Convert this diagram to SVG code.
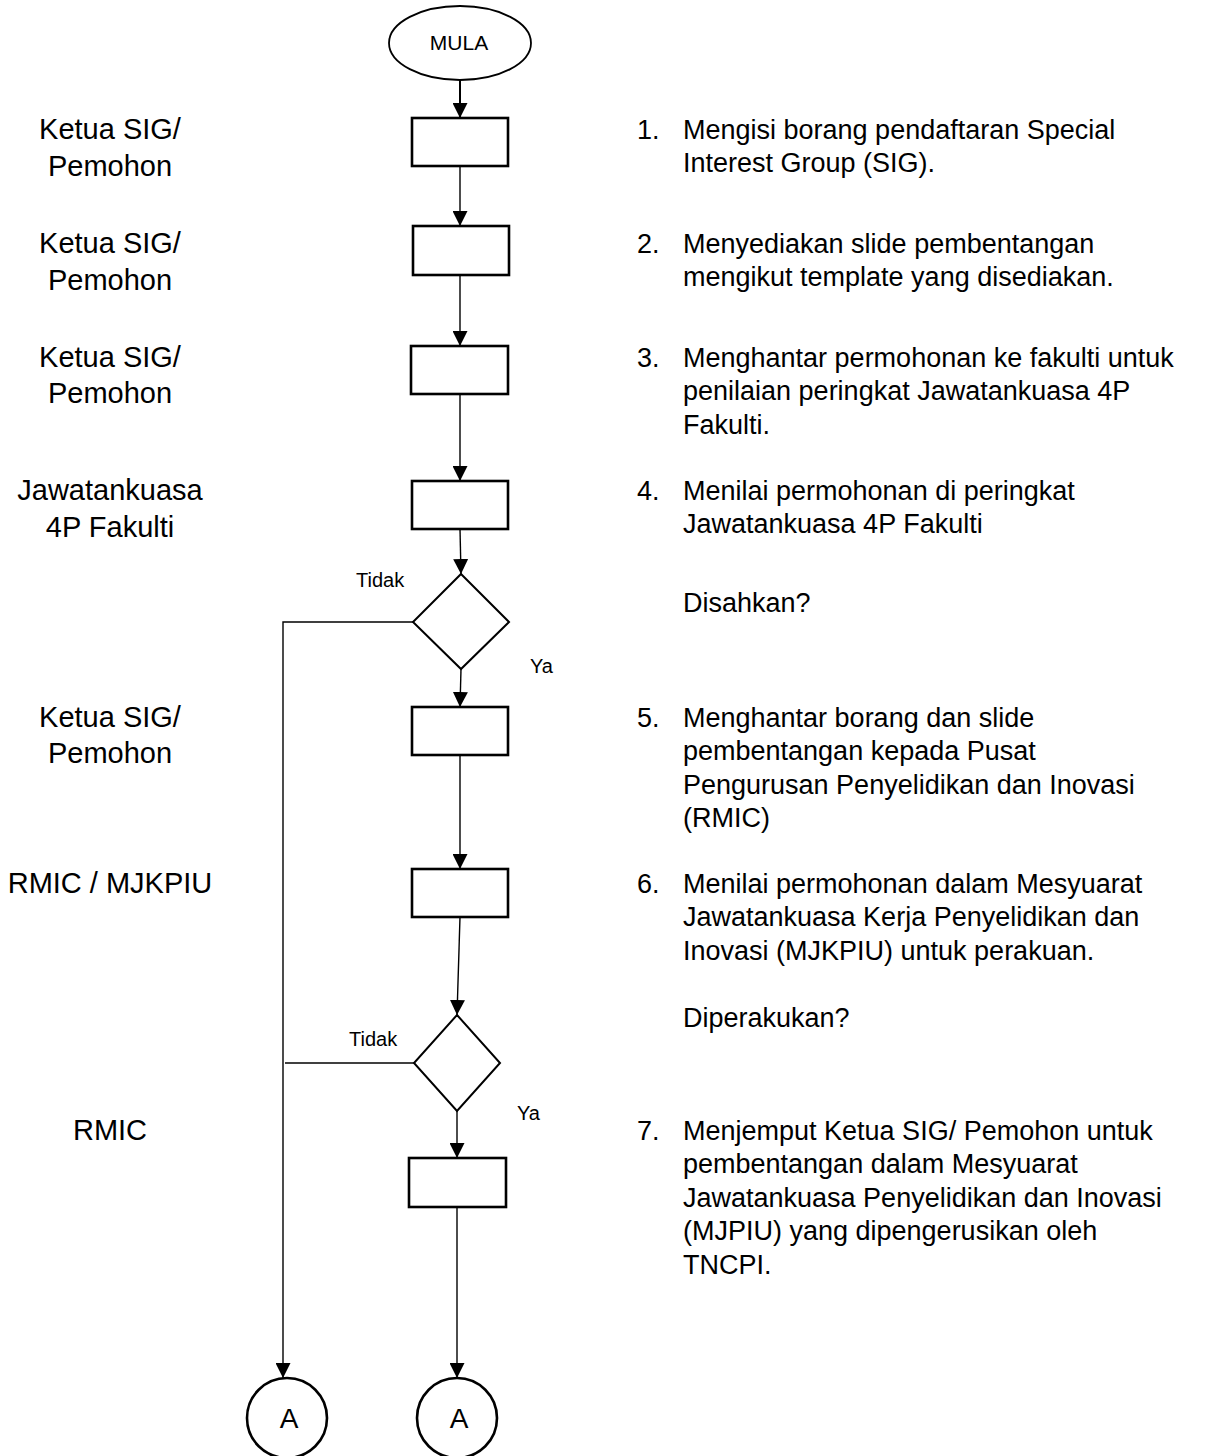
<svg xmlns="http://www.w3.org/2000/svg" width="1228" height="1456" viewBox="0 0 1228 1456">
<style>
  .t { font-family: "Liberation Sans", Arial, sans-serif; fill: #000; }
  .lbl { font-size: 29px; text-anchor: middle; }
  .desc { font-size: 27px; }
  .sm { font-size: 20px; }
  .box { fill: #fff; stroke: #000; stroke-width: 2.6; }
  .dia { fill: #fff; stroke: #000; stroke-width: 2; }
  .con { fill: none; stroke: #000; stroke-width: 1.4; }
</style>
<defs>
  <marker id="arr" markerUnits="userSpaceOnUse" markerWidth="15" markerHeight="15" refX="15" refY="7.5" orient="auto">
    <path d="M0,0 L15,7.5 L0,15 z" fill="#000"/>
  </marker>
</defs>
<rect width="1228" height="1456" fill="#fff"/>

<g id="connectors">
  <line class="con" x1="460" y1="80" x2="460" y2="118" marker-end="url(#arr)" style="stroke-width:2"/>
  <line class="con" x1="460" y1="166" x2="460" y2="226" marker-end="url(#arr)"/>
  <line class="con" x1="460" y1="275" x2="460" y2="346" marker-end="url(#arr)"/>
  <line class="con" x1="460" y1="394" x2="460" y2="481" marker-end="url(#arr)"/>
  <line class="con" x1="460" y1="529" x2="461" y2="574" marker-end="url(#arr)"/>
  <line class="con" x1="461" y1="669" x2="460" y2="707" marker-end="url(#arr)"/>
  <line class="con" x1="460" y1="755" x2="460" y2="869" marker-end="url(#arr)"/>
  <line class="con" x1="460" y1="917" x2="457" y2="1015" marker-end="url(#arr)"/>
  <line class="con" x1="457" y1="1111" x2="457" y2="1158" marker-end="url(#arr)"/>
  <line class="con" x1="457" y1="1207" x2="457" y2="1378" marker-end="url(#arr)"/>
  <polyline class="con" points="413,622 283,622 283,1378" marker-end="url(#arr)"/>
  <line class="con" x1="414" y1="1063" x2="285" y2="1063"/>
  <text class="t sm" x="356" y="587">Tidak</text>
  <text class="t sm" x="530" y="673">Ya</text>
  <text class="t sm" x="349" y="1046">Tidak</text>
  <text class="t sm" x="517" y="1120">Ya</text>
</g>

<g id="start">
  <ellipse cx="460" cy="43" rx="71" ry="37" fill="#fff" stroke="#000" stroke-width="1.8"/>
  <text class="t" x="459" y="50" font-size="21" text-anchor="middle">MULA</text>
</g>

<g id="step1">
  <rect class="box" x="412" y="118" width="96" height="48"/>
  <text class="t lbl" x="110" y="139">Ketua SIG/</text>
  <text class="t lbl" x="110" y="176">Pemohon</text>
  <text class="t desc" x="637" y="139">1.</text>
  <text class="t desc" x="683" y="139">Mengisi borang pendaftaran Special</text>
  <text class="t desc" x="683" y="172.4">Interest Group (SIG).</text>
</g>

<g id="step2">
  <rect class="box" x="413" y="226" width="96" height="49"/>
  <text class="t lbl" x="110" y="253">Ketua SIG/</text>
  <text class="t lbl" x="110" y="290">Pemohon</text>
  <text class="t desc" x="637" y="253">2.</text>
  <text class="t desc" x="683" y="253">Menyediakan slide pembentangan</text>
  <text class="t desc" x="683" y="286.4">mengikut template yang disediakan.</text>
</g>

<g id="step3">
  <rect class="box" x="411" y="346" width="97" height="48"/>
  <text class="t lbl" x="110" y="367">Ketua SIG/</text>
  <text class="t lbl" x="110" y="403">Pemohon</text>
  <text class="t desc" x="637" y="367">3.</text>
  <text class="t desc" x="683" y="367">Menghantar permohonan ke fakulti untuk</text>
  <text class="t desc" x="683" y="400.4">penilaian peringkat Jawatankuasa 4P</text>
  <text class="t desc" x="683" y="433.8">Fakulti.</text>
</g>

<g id="step4">
  <rect class="box" x="412" y="481" width="96" height="48"/>
  <text class="t lbl" x="110" y="500">Jawatankuasa</text>
  <text class="t lbl" x="110" y="537">4P Fakulti</text>
  <text class="t desc" x="637" y="500">4.</text>
  <text class="t desc" x="683" y="500">Menilai permohonan di peringkat</text>
  <text class="t desc" x="683" y="533.4">Jawatankuasa 4P Fakulti</text>
</g>

<g id="decision1">
  <polygon class="dia" points="461,574 509,622 461,669 413,622"/>
  <text class="t desc" x="683" y="612">Disahkan?</text>
</g>

<g id="step5">
  <rect class="box" x="412" y="707" width="96" height="48"/>
  <text class="t lbl" x="110" y="727">Ketua SIG/</text>
  <text class="t lbl" x="110" y="763">Pemohon</text>
  <text class="t desc" x="637" y="727">5.</text>
  <text class="t desc" x="683" y="727">Menghantar borang dan slide</text>
  <text class="t desc" x="683" y="760.4">pembentangan kepada Pusat</text>
  <text class="t desc" x="683" y="793.8">Pengurusan Penyelidikan dan Inovasi</text>
  <text class="t desc" x="683" y="827.2">(RMIC)</text>
</g>

<g id="step6">
  <rect class="box" x="412" y="869" width="96" height="48"/>
  <text class="t lbl" x="110" y="893">RMIC / MJKPIU</text>
  <text class="t desc" x="637" y="893">6.</text>
  <text class="t desc" x="683" y="893">Menilai permohonan dalam Mesyuarat</text>
  <text class="t desc" x="683" y="926.4">Jawatankuasa Kerja Penyelidikan dan</text>
  <text class="t desc" x="683" y="959.8">Inovasi (MJKPIU) untuk perakuan.</text>
</g>

<g id="decision2">
  <polygon class="dia" points="457,1015 500,1063 457,1111 414,1063"/>
  <text class="t desc" x="683" y="1027">Diperakukan?</text>
</g>

<g id="step7">
  <rect class="box" x="409" y="1158" width="97" height="49"/>
  <text class="t lbl" x="110" y="1140">RMIC</text>
  <text class="t desc" x="637" y="1140">7.</text>
  <text class="t desc" x="683" y="1140">Menjemput Ketua SIG/ Pemohon untuk</text>
  <text class="t desc" x="683" y="1173.4">pembentangan dalam Mesyuarat</text>
  <text class="t desc" x="683" y="1206.8">Jawatankuasa Penyelidikan dan Inovasi</text>
  <text class="t desc" x="683" y="1240.2">(MJPIU) yang dipengerusikan oleh</text>
  <text class="t desc" x="683" y="1273.6">TNCPI.</text>
</g>

<g id="connectorA1">
  <circle cx="287" cy="1418" r="40" fill="#fff" stroke="#000" stroke-width="2.6"/>
  <text class="t" x="289" y="1428" font-size="28" text-anchor="middle">A</text>
</g>

<g id="connectorA2">
  <circle cx="457" cy="1418" r="40" fill="#fff" stroke="#000" stroke-width="2.6"/>
  <text class="t" x="459" y="1428" font-size="28" text-anchor="middle">A</text>
</g>
</svg>
